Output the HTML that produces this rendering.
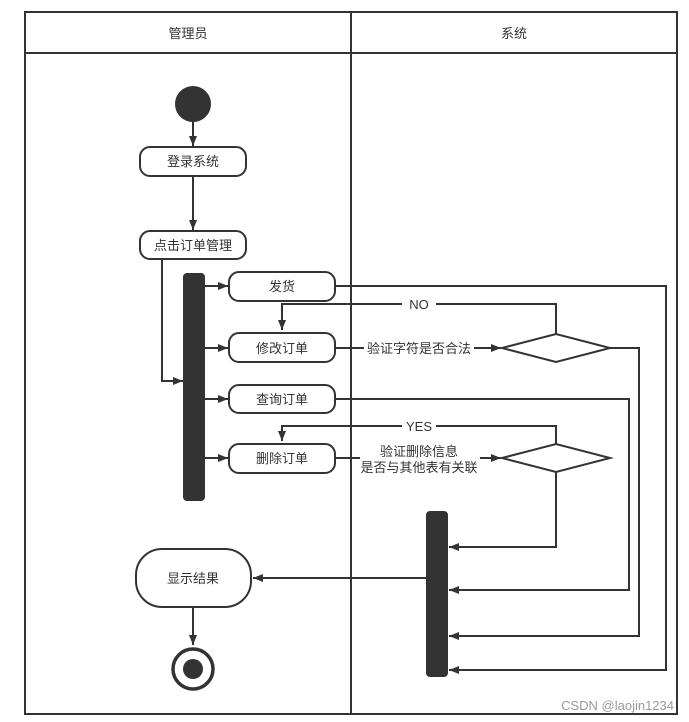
<!DOCTYPE html>
<html><head><meta charset="utf-8"><style>
body{margin:0;background:#fff;}
svg{display:block;font-family:"Liberation Sans","Noto Sans CJK SC",sans-serif;}
text{fill:#333;font-size:13px;}
</style></head><body>
<svg width="689" height="722" viewBox="0 0 689 722">
<defs><marker id="a" viewBox="0 0 10 10" refX="10" refY="5" markerWidth="10" markerHeight="10" markerUnits="userSpaceOnUse" orient="auto"><path d="M0,1 L10,5 L0,9 z" fill="#333"/></marker></defs>
<g stroke="#333" stroke-width="2" fill="none">
<rect x="25" y="12" width="652" height="702"/>
<line x1="25" y1="53" x2="677" y2="53"/>
<line x1="351" y1="12" x2="351" y2="714"/>
</g>
<text x="188" y="38" text-anchor="middle" font-size="14">管理员</text>
<text x="514" y="38" text-anchor="middle" font-size="14">系统</text>
<g stroke="#333" stroke-width="2" fill="none">
<circle cx="193" cy="104" r="17" fill="#333"/>
<line x1="193" y1="121" x2="193" y2="146" marker-end="url(#a)"/>
<rect x="140" y="147" width="106" height="29" rx="10" fill="#fff"/>
<line x1="193" y1="176" x2="193" y2="230" marker-end="url(#a)"/>
<rect x="140" y="231" width="106" height="28" rx="10" fill="#fff"/>
<polyline points="162,259 162,381 183,381" marker-end="url(#a)"/>
<rect x="184" y="274" width="20" height="226" rx="3" fill="#333"/>
<line x1="204" y1="286" x2="228" y2="286" marker-end="url(#a)"/>
<line x1="204" y1="348" x2="228" y2="348" marker-end="url(#a)"/>
<line x1="204" y1="399" x2="228" y2="399" marker-end="url(#a)"/>
<line x1="204" y1="458" x2="228" y2="458" marker-end="url(#a)"/>
<rect x="229" y="272" width="106" height="29" rx="10" fill="#fff"/>
<rect x="229" y="333" width="106" height="29" rx="10" fill="#fff"/>
<rect x="229" y="385" width="106" height="28" rx="10" fill="#fff"/>
<rect x="229" y="444" width="106" height="29" rx="10" fill="#fff"/>
<polyline points="335,286 666,286 666,670 449,670" marker-end="url(#a)"/>
<polyline points="335,348 501,348" marker-end="url(#a)"/>
<polygon points="502,348 556,334 610,348 556,362" fill="#fff"/>
<polyline points="556,334 556,304 282,304 282,330" marker-end="url(#a)"/>
<polyline points="610,348 639,348 639,636 449,636" marker-end="url(#a)"/>
<polyline points="335,399 629,399 629,590 449,590" marker-end="url(#a)"/>
<polyline points="335,458 501,458" marker-end="url(#a)"/>
<polygon points="502,458 556,444 610,458 556,472" fill="#fff"/>
<polyline points="556,444 556,426 282,426 282,441" marker-end="url(#a)"/>
<polyline points="556,472 556,547 449,547" marker-end="url(#a)"/>
<rect x="427" y="512" width="20" height="164" rx="3" fill="#333"/>
<line x1="427" y1="578" x2="253" y2="578" marker-end="url(#a)"/>
<rect x="136" y="549" width="115" height="58" rx="26" fill="#fff"/>
<line x1="193" y1="607" x2="193" y2="645" marker-end="url(#a)"/>
<circle cx="193" cy="669" r="20" fill="#fff" stroke-width="3.5"/>
<circle cx="193" cy="669" r="10" fill="#333" stroke="none"/>
</g>
<g text-anchor="middle">
<text x="193" y="166">登录系统</text>
<text x="193" y="250">点击订单管理</text>
<text x="282" y="291">发货</text>
<text x="282" y="353">修改订单</text>
<text x="282" y="404">查询订单</text>
<text x="282" y="463">删除订单</text>
<text x="193" y="583">显示结果</text>
</g>
<g text-anchor="middle" font-size="12">
<rect x="402" y="296" width="34" height="16" fill="#fff"/>
<text x="419" y="309">NO</text>
<rect x="402" y="418" width="34" height="16" fill="#fff"/>
<text x="419" y="431">YES</text>
<rect x="364" y="340" width="110" height="16" fill="#fff"/>
<text x="419" y="353" font-size="12">验证字符是否合法</text>
<rect x="360" y="443" width="120" height="32" fill="#fff"/>
<text x="419" y="456" font-size="12">验证删除信息</text>
<text x="419" y="472" font-size="12">是否与其他表有关联</text>
</g>
<text x="674" y="710" text-anchor="end" font-size="13" style="fill:#999">CSDN @laojin1234</text>
</svg>
</body></html>
